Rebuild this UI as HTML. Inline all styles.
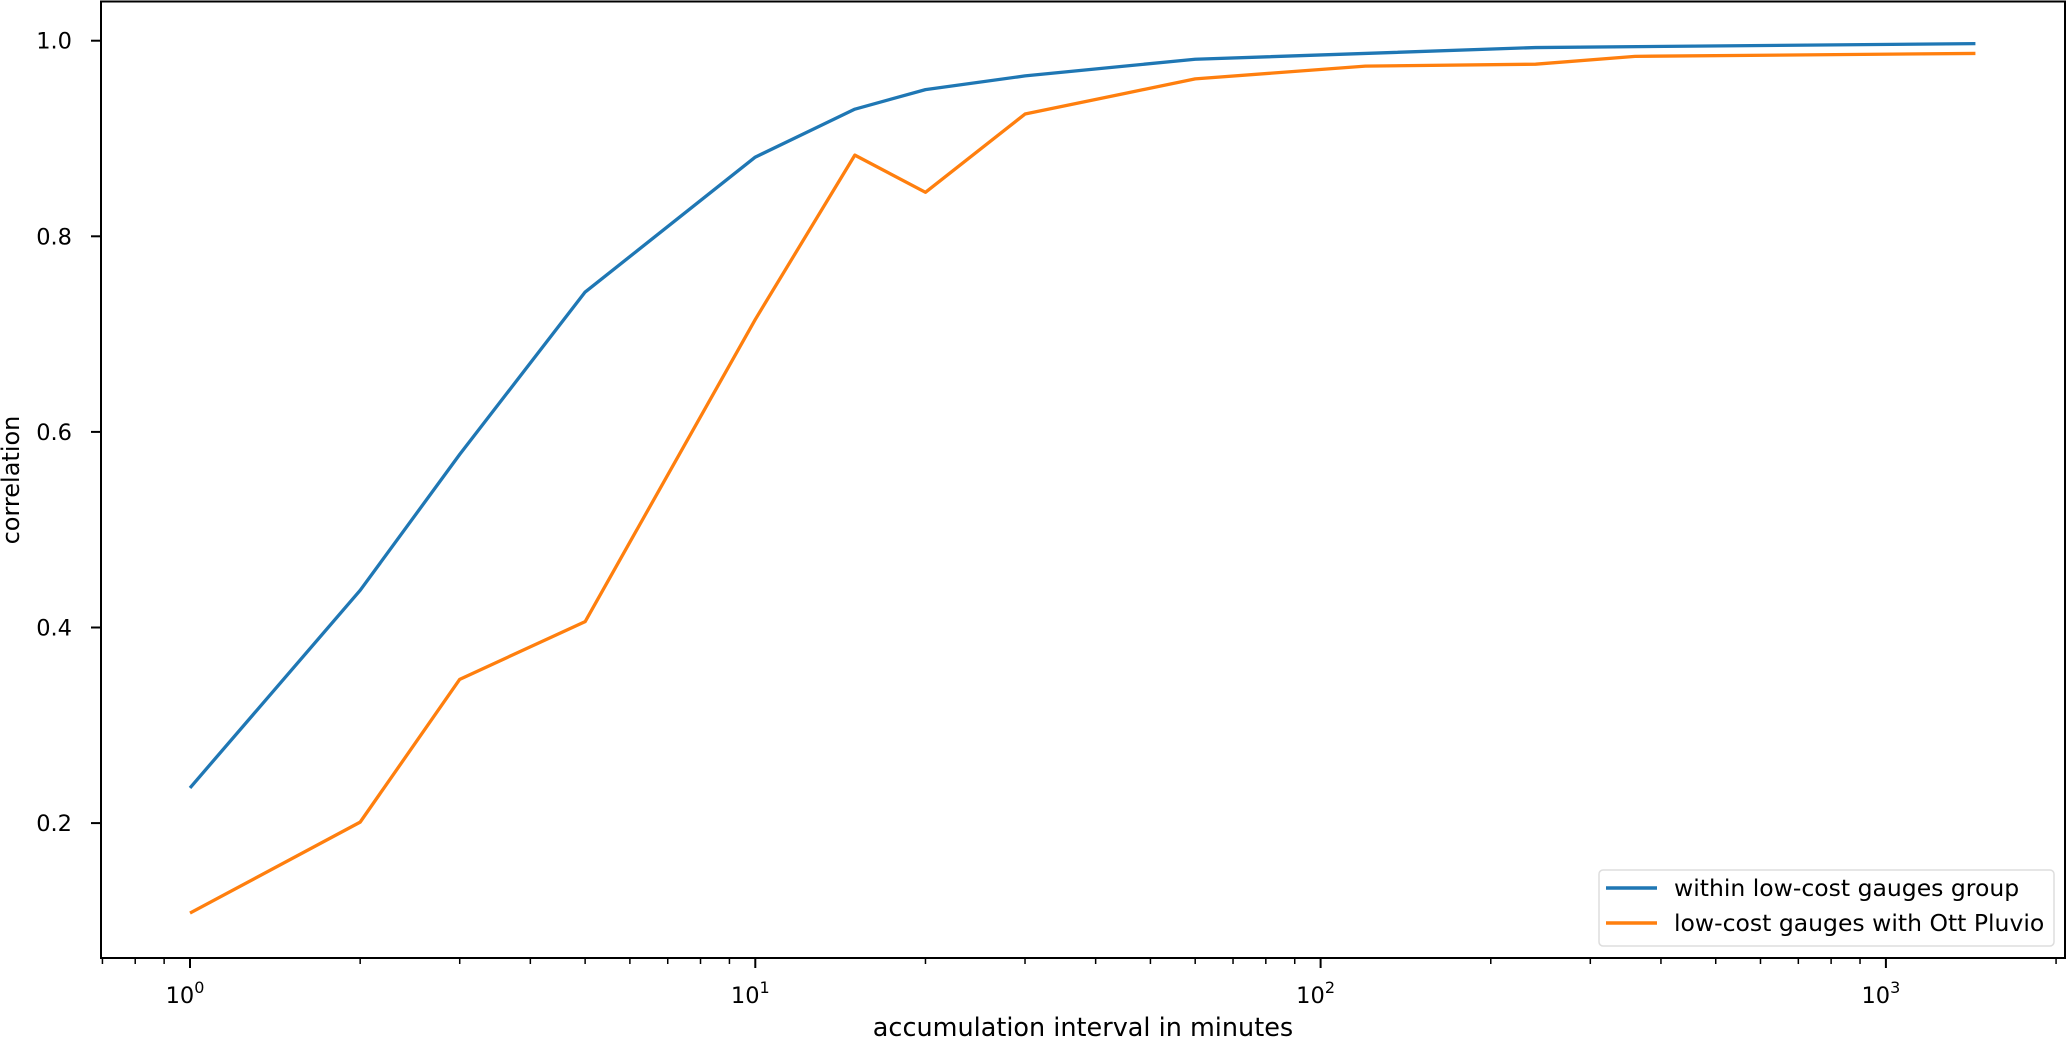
<!DOCTYPE html>
<html><head><style>
body{margin:0;background:#fff;}
svg text{font-family:"DejaVu Sans","Liberation Sans",sans-serif;fill:#000;}
</style></head><body>
<svg id="s" width="2067" height="1042" xmlns="http://www.w3.org/2000/svg">
<rect x="0" y="0" width="2067" height="1042" fill="#fff"/>
<g id="g"></g>
<rect x="101" y="1.5" width="1964" height="956.5" fill="none" stroke="#000" stroke-width="2"/>
<text x="1083" y="1036" font-size="25.5" text-anchor="middle">accumulation interval in minutes</text>
<text transform="translate(19,480) rotate(-90)" font-size="24" text-anchor="middle">correlation</text>
<rect x="1599" y="870" width="455" height="76" rx="4" fill="#fff" fill-opacity="0.8" stroke="#ddd" stroke-width="1.5"/>
<line x1="1606" y1="888" x2="1657" y2="888" stroke="#1f77b4" stroke-width="3.5"/>
<line x1="1606" y1="923" x2="1657" y2="923" stroke="#ff7f0e" stroke-width="3.5"/>
<text x="1674" y="896" font-size="23.5">within low-cost gauges group</text>
<text x="1674" y="931" font-size="23.5">low-cost gauges with Ott Pluvio</text>
</svg>
<script>
var X=v=>190+565.3*Math.log10(v), Y=d=>40.7+(1-d)*978;
var g=document.getElementById('g'), h='';
[[1.0,'1.0'],[0.8,'0.8'],[0.6,'0.6'],[0.4,'0.4'],[0.2,'0.2']].forEach(t=>{var y=Y(t[0]);
h+=`<line x1="91" y1="${y}" x2="101" y2="${y}" stroke="#000" stroke-width="2"/><text x="72" y="${y+8}" font-size="22.5" text-anchor="end">${t[1]}</text>`;});
for(var e=-1;e<=3;e++)for(var m=1;m<10;m++){var v=m*Math.pow(10,e),x=X(v);if(x<101||x>2065)continue;
if(m==1){h+=`<line x1="${x}" y1="958" x2="${x}" y2="968" stroke="#000" stroke-width="2"/><text x="${x-5}" y="1003" font-size="22.5" text-anchor="middle">10<tspan dy="-10" font-size="16">${e}</tspan></text>`;}
else h+=`<line x1="${x}" y1="958" x2="${x}" y2="964" stroke="#000" stroke-width="1.5"/>`;}
function pl(d,c){return `<polyline fill="none" stroke="${c}" stroke-width="3.3" stroke-linejoin="round" points="${d.map(p=>X(p[0])+','+Y(p[1])).join(' ')}"/>`;}
h+=pl([[1,.236],[2,.438],[3,.577],[5,.743],[10,.881],[15,.930],[20,.950],[30,.964],[45,.974],[60,.981],[240,.993],[1440,.997]],'#1f77b4');
h+=pl([[1,.108],[2,.201],[3,.347],[5,.406],[10,.715],[15,.883],[20,.845],[30,.925],[45,.946],[60,.961],[120,.974],[240,.976],[360,.984],[1440,.987]],'#ff7f0e');
g.innerHTML=h;
</script>
</body></html>
